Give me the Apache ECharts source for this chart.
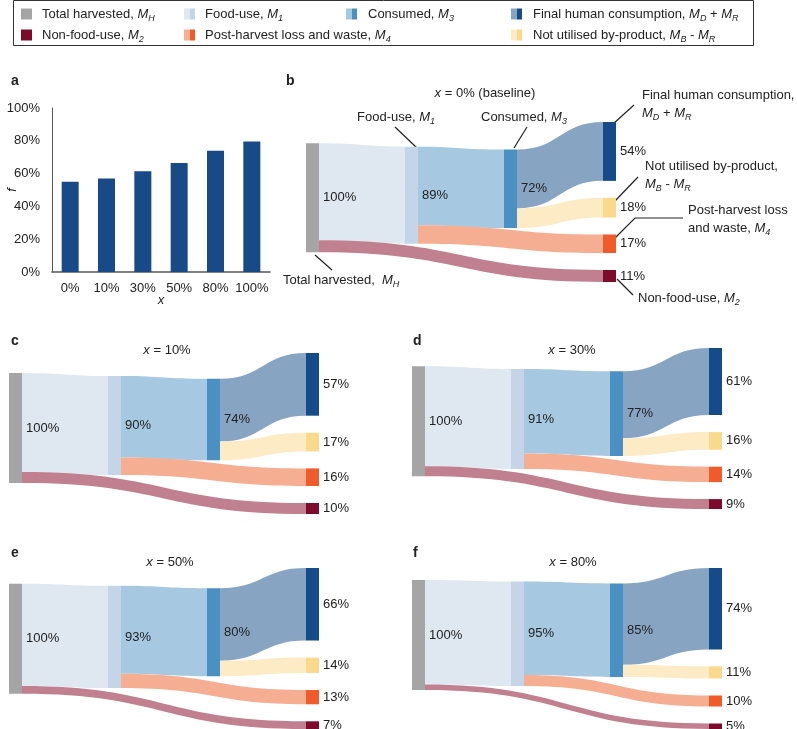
<!DOCTYPE html>
<html>
<head>
<meta charset="utf-8">
<script src="https://cdn.jsdelivr.net/npm/echarts@6/dist/echarts.min.js"></script>
<style>
  html, body { margin: 0; padding: 0; background: #fff; }
  #chart { width: 797px; height: 729px; }
</style>
</head>
<body>
<div id="chart"></div>
<script>
const FONT = '"Liberation Sans", Arial, sans-serif';

// panel a
const xCategories = ['0%', '10%', '30%', '50%', '80%', '100%'];
const fValues = [55, 57, 61.5, 66.5, 74, 79.5];

// sankey panels b-f, one entry per scenario
const scenarioX = ['0% (baseline)', '10%', '30%', '50%', '80%'];
const foodUse = [89, 90, 91, 93, 95];
const nonFoodUse = [11, 10, 9, 7, 5];
const consumed = [72, 74, 77, 80, 85];
const lossWaste = [17, 16, 14, 13, 10];
const finalConsumption = [54, 57, 61, 66, 74];
const byProduct = [18, 17, 16, 14, 11];

// colours: node colour + link colour
const C = {
  total: '#a5a5a5',
  food: '#c3d5e6', foodLink: '#dfe7f1',
  nonfood: '#7b0c2b', nonfoodLink: '#c08090',
  consumed: '#4a90c2', consumedLink: '#a6c8e0',
  loss: '#ef5b2b', lossLink: '#f6ae93',
  final: '#164b89', finalLink: '#88a4c3',
  byprod: '#f9d98b', byprodLink: '#fcebc5'
};

// where each sankey panel sits
const boxes = [
  { left: 306, top: 122, width: 310, height: 160 },
  { left: 9, top: 353, width: 310, height: 161 },
  { left: 412, top: 348, width: 310, height: 161 },
  { left: 9, top: 568, width: 310, height: 161 },
  { left: 412, top: 568, width: 310, height: 161 }
];

function makeSankey(k) {
  const node = (name, color) => ({ name: name, itemStyle: { color: color, borderWidth: 0 } });
  const link = (s, t, v, color) => ({ source: s, target: t, value: v, lineStyle: { color: color, opacity: 1 } });
  return Object.assign({
    type: 'sankey',
    nodeWidth: 13,
    nodeGap: 17,
    layoutIterations: 32,
    draggable: false,
    silent: true,
    emphasis: { disabled: true },
    label: { position: 'right', distance: 4, formatter: '{c}%', color: '#222', fontSize: 13, fontFamily: FONT },
    lineStyle: { curveness: 0.5, opacity: 1 },
    data: [
      node('Total harvested', C.total),
      node('Food-use', C.food),
      node('Consumed', C.consumed),
      node('Final human consumption', C.final),
      node('Not utilised by-product', C.byprod),
      node('Post-harvest loss and waste', C.loss),
      node('Non-food-use', C.nonfood)
    ],
    links: [
      link('Total harvested', 'Food-use', foodUse[k], C.foodLink),
      link('Total harvested', 'Non-food-use', nonFoodUse[k], C.nonfoodLink),
      link('Food-use', 'Consumed', consumed[k], C.consumedLink),
      link('Food-use', 'Post-harvest loss and waste', lossWaste[k], C.lossLink),
      link('Consumed', 'Final human consumption', finalConsumption[k], C.finalLink),
      link('Consumed', 'Not utilised by-product', byProduct[k], C.byprodLink)
    ]
  }, boxes[k]);
}

const rich = {
  n: { fontSize: 13, fontFamily: FONT, color: '#222', lineHeight: 18 },
  i: { fontSize: 13, fontFamily: FONT, color: '#222', fontStyle: 'italic', lineHeight: 18 },
  s: { fontSize: 9, fontFamily: FONT, color: '#222', fontStyle: 'italic', lineHeight: 9, verticalAlign: 'bottom' },
  b: { fontSize: 14, fontFamily: FONT, color: '#111', fontWeight: 'bold', lineHeight: 18 }
};

function txt(x, y, text, align) {
  return {
    type: 'text', x: x, y: y, silent: true,
    style: { text: text, rich: rich, align: align || 'left', verticalAlign: 'middle', fontFamily: FONT, fontSize: 13, fill: '#222' }
  };
}
function seg(points) {
  return { type: 'polyline', silent: true, shape: { points: points }, style: { stroke: '#222', lineWidth: 1.2, fill: null } };
}
function swatch(x, y, light, dark) {
  return {
    type: 'rect', silent: true, shape: { x: x, y: y - 5.5, width: 11, height: 11 },
    style: {
      fill: new echarts.graphic.LinearGradient(0, 0, 1, 0, [
        { offset: 0, color: light }, { offset: 0.5, color: light },
        { offset: 0.55, color: dark }, { offset: 1, color: dark }
      ])
    }
  };
}

const row1 = 14, row2 = 35;
const graphics = [
  { type: 'rect', silent: true, shape: { x: 13.5, y: 0.5, width: 740, height: 45 }, style: { fill: '#fff', stroke: '#333', lineWidth: 1 } },
  swatch(21, row1, C.total, C.total), txt(42, row1, '{n|Total harvested, }{i|M}{s|H}'),
  swatch(184, row1, C.foodLink, C.food), txt(205, row1, '{n|Food-use, }{i|M}{s|1}'),
  swatch(346, row1, C.consumedLink, C.consumed), txt(368, row1, '{n|Consumed, }{i|M}{s|3}'),
  swatch(511, row1, C.finalLink, C.final), txt(533, row1, '{n|Final human consumption, }{i|M}{s|D}{n| + }{i|M}{s|R}'),
  swatch(21, row2, C.nonfood, C.nonfood), txt(42, row2, '{n|Non-food-use, }{i|M}{s|2}'),
  swatch(184, row2, C.lossLink, C.loss), txt(205, row2, '{n|Post-harvest loss and waste, }{i|M}{s|4}'),
  swatch(511, row2, C.byprodLink, C.byprod), txt(533, row2, '{n|Not utilised by-product, }{i|M}{s|B}{n| - }{i|M}{s|R}'),

  // panel letters
  txt(11, 81, '{b|a}'), txt(286, 81, '{b|b}'),
  txt(11, 341, '{b|c}'), txt(413, 341, '{b|d}'),
  txt(11, 553, '{b|e}'), txt(413, 553, '{b|f}'),

  // sankey titles
  txt(485, 93, '{i|x}{n| = ' + scenarioX[0] + '}', 'center'),
  txt(167, 350, '{i|x}{n| = ' + scenarioX[1] + '}', 'center'),
  txt(572, 350, '{i|x}{n| = ' + scenarioX[2] + '}', 'center'),
  txt(170, 562, '{i|x}{n| = ' + scenarioX[3] + '}', 'center'),
  txt(573, 562, '{i|x}{n| = ' + scenarioX[4] + '}', 'center'),

  // panel b callouts
  txt(357, 117, '{n|Food-use, }{i|M}{s|1}'), seg([[395, 127], [417, 148]]),
  txt(481, 117, '{n|Consumed, }{i|M}{s|3}'), seg([[527, 127], [514, 148]]),
  txt(642, 95, '{n|Final human consumption,}'), txt(642, 113, '{i|M}{s|D}{n| + }{i|M}{s|R}'), seg([[634, 105], [613, 124]]),
  txt(645, 166, '{n|Not utilised by-product,}'), txt(645, 184, '{i|M}{s|B}{n| - }{i|M}{s|R}'), seg([[638, 177], [615, 201]]),
  txt(688, 210, '{n|Post-harvest loss}'), txt(688, 228, '{n|and waste, }{i|M}{s|4}'), seg([[683, 218], [635, 218], [615, 238]]),
  txt(638, 298, '{n|Non-food-use, }{i|M}{s|2}'), seg([[617, 279], [633, 295]]),
  txt(283, 280, '{n|Total harvested,  }{i|M}{s|H}'), seg([[315, 255], [332, 270]])
];

const chart = echarts.init(document.getElementById('chart'), null, { renderer: 'canvas' });
chart.setOption({
  animation: false,
  backgroundColor: '#fff',
  textStyle: { fontFamily: FONT },
  grid: { left: 52, top: 108, width: 218, height: 164, containLabel: false, outerBoundsMode: 'none' },
  xAxis: {
    type: 'category',
    data: xCategories,
    name: 'x',
    nameLocation: 'middle',
    nameGap: 22,
    nameMoveOverlap: false,
    nameTextStyle: { fontStyle: 'italic', fontSize: 13, color: '#222' },
    axisLine: { lineStyle: { color: '#555', width: 1.5 } },
    axisTick: { show: false },
    axisLabel: { color: '#222', fontSize: 13, margin: 10, interval: 0 }
  },
  yAxis: {
    type: 'value',
    min: 0, max: 100, interval: 20,
    name: 'f',
    nameLocation: 'middle',
    nameGap: 33,
    nameMoveOverlap: false,
    nameTextStyle: { fontStyle: 'italic', fontSize: 13, color: '#222' },
    axisLine: { show: true, lineStyle: { color: '#555', width: 1 } },
    axisTick: { show: false },
    splitLine: { show: false },
    axisLabel: { color: '#222', fontSize: 13, margin: 12, formatter: '{value}%' }
  },
  series: [
    {
      type: 'bar',
      data: fValues,
      barWidth: 17,
      silent: true,
      itemStyle: { color: '#174a86' }
    }
  ].concat(scenarioX.map((_, k) => makeSankey(k))),
  graphic: graphics
});
</script>
</body>
</html>
